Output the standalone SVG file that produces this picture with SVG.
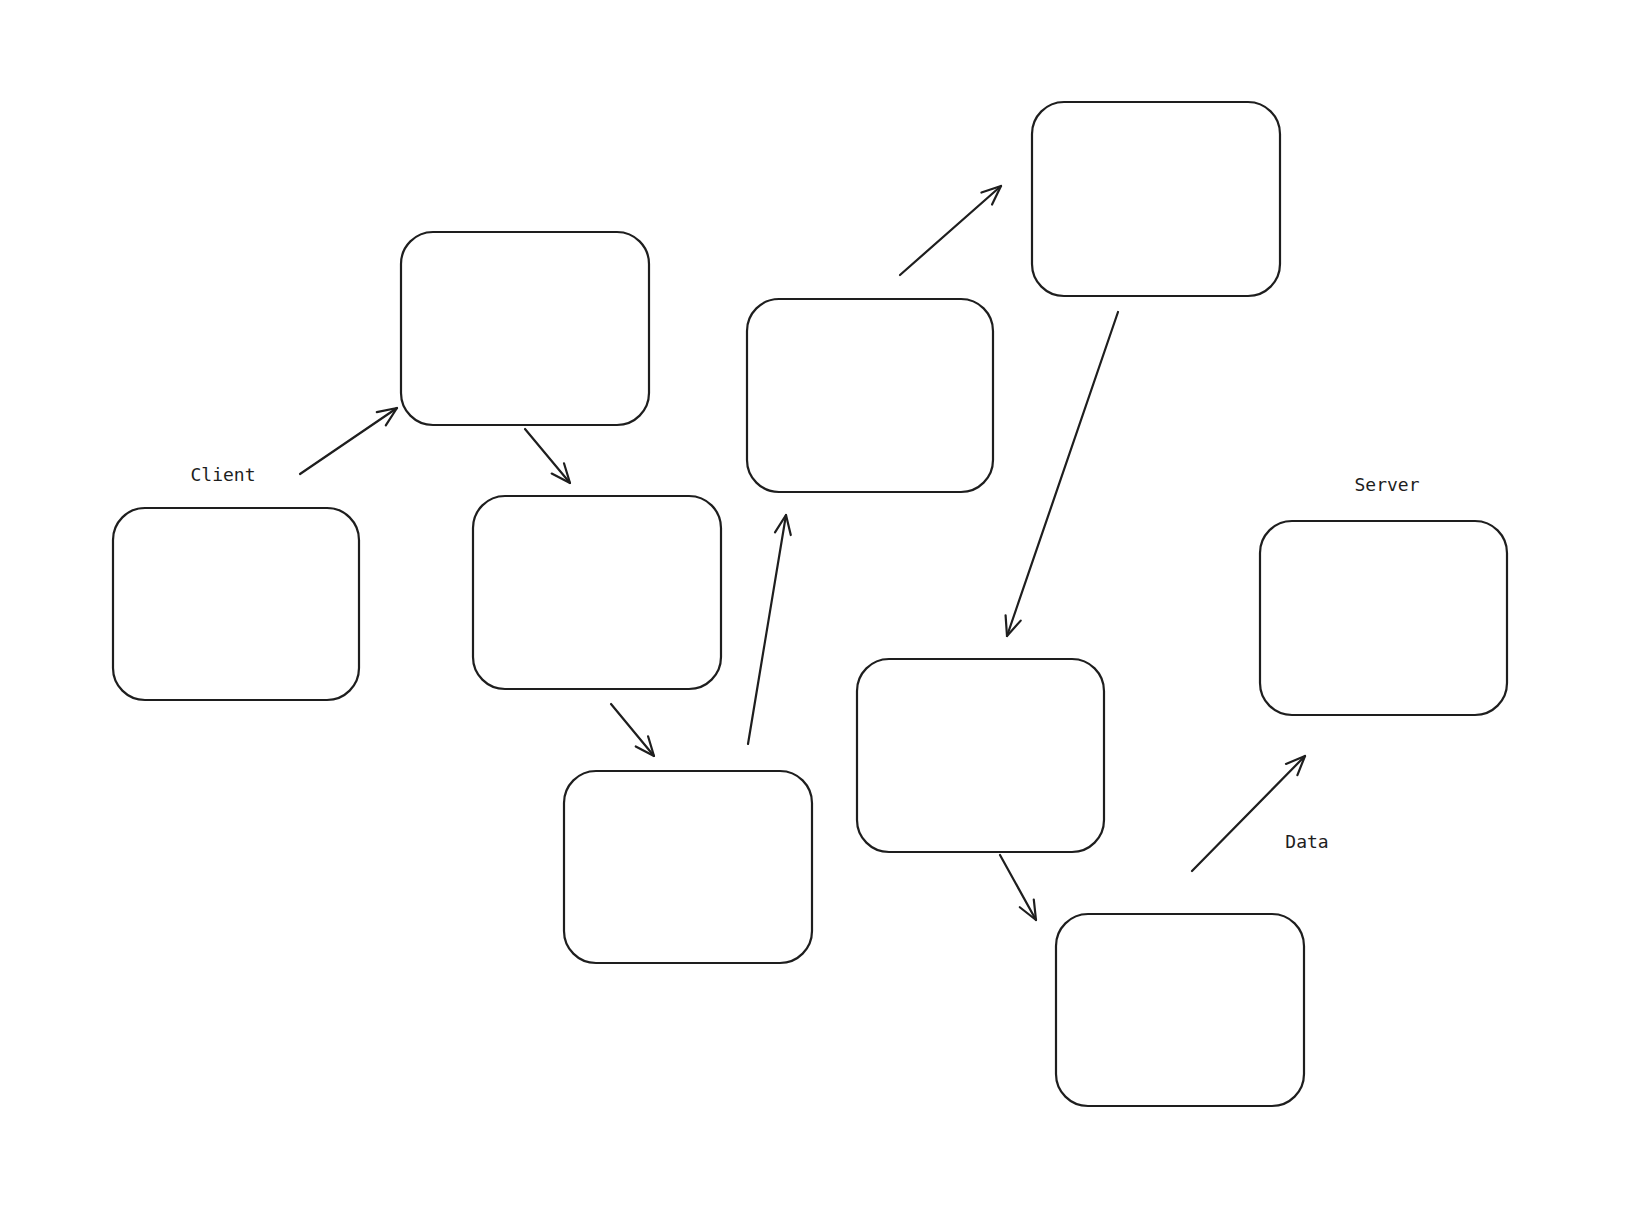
<svg xmlns="http://www.w3.org/2000/svg" width="1638" height="1214" viewBox="0 0 1638 1214">
<style>
.box{fill:#ffffff;stroke:#1e1e1e;stroke-width:2.2}
.edge{fill:none;stroke:#1e1e1e;stroke-width:2.2;stroke-linecap:round}
.lbl{font-family:"DejaVu Sans Mono","Liberation Mono",monospace;font-size:18px;fill:#1e1e1e;text-anchor:middle}
</style>
<defs>
<marker id="ah" markerUnits="userSpaceOnUse" markerWidth="40" markerHeight="40" viewBox="-25 -20 30 40" refX="0" refY="0" orient="auto">
<path d="M-19,-8 L0,0 L-19,8" fill="none" stroke="#1e1e1e" stroke-width="2.2" stroke-linecap="round" stroke-linejoin="round"/>
</marker>
</defs>
<rect width="1638" height="1214" fill="#ffffff"/>
<g id="client"><rect class="box" x="113" y="508" width="246" height="192" rx="32"/><text class="lbl" x="223" y="481">Client</text></g>
<g id="n2"><rect class="box" x="401" y="232" width="248" height="193" rx="32"/></g>
<g id="n3"><rect class="box" x="473" y="496" width="248" height="193" rx="32"/></g>
<g id="n4"><rect class="box" x="564" y="771" width="248" height="192" rx="32"/></g>
<g id="n5"><rect class="box" x="747" y="299" width="246" height="193" rx="32"/></g>
<g id="n6"><rect class="box" x="1032" y="102" width="248" height="194" rx="32"/></g>
<g id="n7"><rect class="box" x="857" y="659" width="247" height="193" rx="32"/></g>
<g id="n8"><rect class="box" x="1056" y="914" width="248" height="192" rx="32"/></g>
<g id="server"><rect class="box" x="1260" y="521" width="247" height="194" rx="32"/><text class="lbl" x="1387" y="491">Server</text></g>
<g id="data-label"><text class="lbl" x="1307" y="848">Data</text></g>
<g id="connectors">
<line class="edge" x1="300" y1="474" x2="397" y2="408" marker-end="url(#ah)"/>
<line class="edge" x1="525" y1="429" x2="570" y2="483" marker-end="url(#ah)"/>
<line class="edge" x1="611" y1="704" x2="654" y2="756" marker-end="url(#ah)"/>
<line class="edge" x1="748" y1="744" x2="786" y2="515" marker-end="url(#ah)"/>
<line class="edge" x1="900" y1="275" x2="1001" y2="186" marker-end="url(#ah)"/>
<line class="edge" x1="1118" y1="312" x2="1007" y2="636" marker-end="url(#ah)"/>
<line class="edge" x1="1000" y1="855" x2="1036" y2="920" marker-end="url(#ah)"/>
<line class="edge" x1="1192" y1="871" x2="1305" y2="756" marker-end="url(#ah)"/>
</g>
</svg>
